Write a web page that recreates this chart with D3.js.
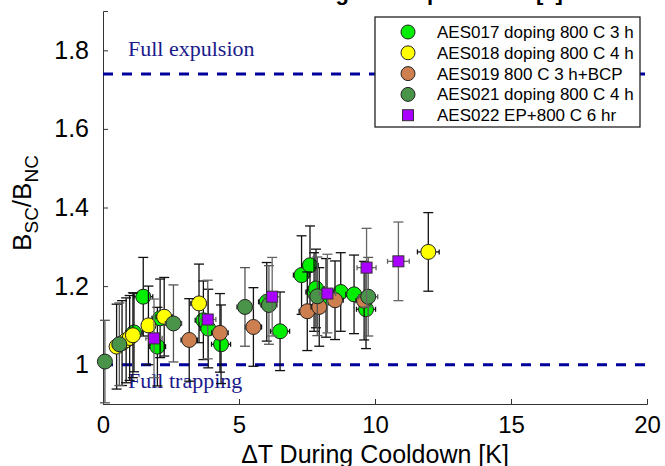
<!DOCTYPE html>
<html>
<head>
<meta charset="utf-8">
<script src="https://cdn.jsdelivr.net/npm/d3@7"></script>
<style>
  body { margin: 0; background: #fff; }
  svg { display: block; }
</style>
</head>
<body>
<div id="chart"></div>
<script>
// series names, marker colours, marker shapes (legend order = draw order)
var names = ["AES017 doping 800 C 3 h", "AES018 doping 800 C 4 h", "AES019 800 C 3 h+BCP",
             "AES021 doping 800 C 4 h", "AES022 EP+800 C 6 hr"];

// AES017 doping 800 C 3 h
var aes017X = [1.14, 1.48, 2.0, 2.1, 3.69, 3.87, 4.34, 6.02, 6.51, 7.3, 7.61, 7.76, 7.83, 8.2, 8.74, 9.23, 9.67];
var aes017Y = [1.082, 1.173, 1.046, 1.118, 1.113, 1.092, 1.052, 1.160, 1.085, 1.228, 1.253, 1.185, 1.194, 1.170, 1.185, 1.179, 1.141];
var aes017Ex = [0.3, 0.35, 0.3, 0.3, 0.3, 0.3, 0.35, 0.3, 0.35, 0.3, 0.3, 0.3, 0.3, 0.3, 0.3, 0.3, 0.35];
var aes017Ey = [0.1, 0.1, 0.1, 0.1, 0.1, 0.1, 0.1, 0.1, 0.1, 0.1, 0.1, 0.1, 0.1, 0.1, 0.1, 0.1, 0.1];

// AES018 doping 800 C 4 h
var aes018X = [0.5, 0.7, 0.85, 0.98, 1.1, 1.67, 2.25, 3.53, 11.96];
var aes018Y = [1.046, 1.055, 1.062, 1.068, 1.075, 1.100, 1.122, 1.156, 1.287];
var aes018Ex = [0.2, 0.2, 0.2, 0.2, 0.2, 0.25, 0.3, 0.3, 0.4];
var aes018Ey = [0.108, 0.108, 0.108, 0.108, 0.108, 0.1, 0.1, 0.1, 0.1];

// AES019 800 C 3 h+BCP
var aes019X = [3.17, 4.30, 5.53, 7.51, 7.95, 8.53, 9.6];
var aes019Y = [1.063, 1.081, 1.096, 1.136, 1.147, 1.164, 1.163];
var aes019Ex = [0.3, 0.3, 0.3, 0.3, 0.3, 0.3, 0.3];
var aes019Ey = [0.105, 0.1, 0.1, 0.1, 0.1, 0.1, 0.1];

// AES021 doping 800 C 4 h
var aes021X = [0.07, 0.6, 2.59, 5.22, 6.1, 7.88, 9.75];
var aes021Y = [1.008, 1.052, 1.105, 1.147, 1.152, 1.174, 1.173];
var aes021Ex = [0.15, 0.25, 0.3, 0.3, 0.3, 0.3, 0.35];
var aes021Ey = [0.105, 0.105, 0.098, 0.1, 0.1, 0.1, 0.1];

// AES022 EP+800 C 6 hr
var aes022X = [1.875, 3.85, 6.22, 8.25, 9.69, 10.86];
var aes022Y = [1.067, 1.115, 1.173, 1.181, 1.247, 1.263];
var aes022Ex = [0.3, 0.3, 0.3, 0.3, 0.35, 0.4];
var aes022Ey = [0.1, 0.1, 0.1, 0.1, 0.1, 0.1];

var xTicks = [0, 5, 10, 15, 20];
var yTicks = [1, 1.2, 1.4, 1.6, 1.8];
var refLines = [
    { value: 1.74, label: "Full expulsion" },
    { value: 1.0, label: "Full trapping" }
];

var config = {
    colors: ["#00ee00", "#ffff00", "#cd7f4f", "#4a944a", "#aa00ff"],
    barColors: ["#111", "#111", "#111", "#555", "#666"],
    shapes: ["circle", "circle", "circle", "circle", "square"],
    refColor: "#00009c",
    refText: "#1a1a8c",
    font: "'Liberation Sans', Arial, Helvetica, sans-serif",
    serif: "'Liberation Serif', 'Times New Roman', serif",
    width: 665,
    height: 466,
    margin: { left: 103, right: 18, top: 11, bottom: 62 }
};

var seriesData = [
    [aes017X, aes017Y, aes017Ex, aes017Ey],
    [aes018X, aes018Y, aes018Ex, aes018Ey],
    [aes019X, aes019Y, aes019Ex, aes019Ey],
    [aes021X, aes021Y, aes021Ex, aes021Ey],
    [aes022X, aes022Y, aes022Ex, aes022Ey]
].map(function (s, k) {
    return {
        name: names[k],
        color: config.colors[k],
        bar: config.barColors[k],
        shape: config.shapes[k],
        points: s[0].map(function (x, i) {
            return { x: x, y: s[1][i], ex: s[2][i], ey: s[3][i] };
        })
    };
});

var m = config.margin;
var svg = d3.select("#chart").append("svg")
    .attr("width", config.width)
    .attr("height", config.height);

var x = d3.scaleLinear().domain([0, 20]).range([m.left, config.width - m.right]);
var y = d3.scaleLinear().domain([0.9, 1.9]).range([config.height - m.bottom, m.top]);

// title, cut off at the top of the picture (only descenders show)
svg.append("text")
    .attr("x", 267).attr("y", 0)
    .attr("font-family", config.font)
    .attr("font-weight", "bold")
    .attr("font-size", 22)
    .text("Cooling rate dependence [a]");

// axes with inward ticks
var xAxis = svg.append("g")
    .attr("transform", "translate(0," + y.range()[0] + ")")
    .call(d3.axisBottom(x).tickValues(xTicks).tickSize(-5).tickPadding(12).tickFormat(d3.format("d")));
var yAxis = svg.append("g")
    .attr("transform", "translate(" + m.left + ",0)")
    .call(d3.axisLeft(y).tickValues(yTicks).tickSize(-5).tickPadding(14)
        .tickFormat(function (d) { return d === 1 ? "1" : d3.format(".1f")(d); }));

[xAxis, yAxis].forEach(function (a) {
    a.select(".domain").attr("stroke", "#333").attr("stroke-width", 1);
    a.selectAll(".tick line").attr("stroke", "#333");
    a.selectAll(".tick text")
        .attr("font-family", config.font)
        .attr("font-size", 25)
        .attr("fill", "#000");
});
xAxis.selectAll(".tick text").attr("font-size", 24).attr("dy", "0.71em");

// axis labels
svg.append("text")
    .attr("x", (x.range()[0] + x.range()[1]) / 2)
    .attr("y", 463)
    .attr("text-anchor", "middle")
    .attr("font-family", config.font)
    .attr("font-size", 25)
    .text("\u0394T During Cooldown [K]");

var yl = svg.append("text")
    .attr("transform", "translate(31,203) rotate(-90)")
    .attr("text-anchor", "middle")
    .attr("font-family", config.font)
    .attr("font-size", 26);
yl.append("tspan").text("B");
yl.append("tspan").attr("font-size", 19).attr("dy", 7).text("SC");
yl.append("tspan").attr("dy", -7).text("/B");
yl.append("tspan").attr("font-size", 19).attr("dy", 7).text("NC");

// reference lines
var refs = svg.selectAll(".ref").data(refLines).enter().append("g");
refs.append("line")
    .attr("x1", x(0)).attr("x2", x(20))
    .attr("y1", function (d) { return y(d.value); })
    .attr("y2", function (d) { return y(d.value); })
    .attr("stroke", config.refColor)
    .attr("stroke-width", 3)
    .attr("stroke-dasharray", "10,9");
refs.append("text")
    .attr("x", x(0) + 25)
    .attr("y", function (d, i) { return i === 0 ? y(d.value) - 18 : y(d.value) + 23; })
    .attr("font-family", config.serif)
    .attr("font-size", 22)
    .attr("fill", config.refText)
    .text(function (d) { return d.label; });

// error bars + markers, series by series
seriesData.forEach(function (s) {
    var g = svg.append("g");
    var pts = g.selectAll(".pt").data(s.points).enter().append("g");
    var cap = 5, xcap = 2.5;
    pts.append("line")
        .attr("x1", function (d) { return x(d.x); }).attr("x2", function (d) { return x(d.x); })
        .attr("y1", function (d) { return y(d.y - d.ey); }).attr("y2", function (d) { return y(d.y + d.ey); });
    pts.append("line")
        .attr("x1", function (d) { return x(d.x) - cap; }).attr("x2", function (d) { return x(d.x) + cap; })
        .attr("y1", function (d) { return y(d.y + d.ey); }).attr("y2", function (d) { return y(d.y + d.ey); });
    pts.append("line")
        .attr("x1", function (d) { return x(d.x) - cap; }).attr("x2", function (d) { return x(d.x) + cap; })
        .attr("y1", function (d) { return y(d.y - d.ey); }).attr("y2", function (d) { return y(d.y - d.ey); });
    pts.append("line")
        .attr("x1", function (d) { return x(d.x - d.ex); }).attr("x2", function (d) { return x(d.x + d.ex); })
        .attr("y1", function (d) { return y(d.y); }).attr("y2", function (d) { return y(d.y); });
    pts.append("line")
        .attr("x1", function (d) { return x(d.x - d.ex); }).attr("x2", function (d) { return x(d.x - d.ex); })
        .attr("y1", function (d) { return y(d.y) - xcap; }).attr("y2", function (d) { return y(d.y) + xcap; });
    pts.append("line")
        .attr("x1", function (d) { return x(d.x + d.ex); }).attr("x2", function (d) { return x(d.x + d.ex); })
        .attr("y1", function (d) { return y(d.y) - xcap; }).attr("y2", function (d) { return y(d.y) + xcap; });
    pts.selectAll("line").attr("stroke", s.bar).attr("stroke-width", 1.3);

    if (s.shape === "square") {
        pts.append("rect")
            .attr("x", function (d) { return x(d.x) - 5.5; })
            .attr("y", function (d) { return y(d.y) - 5.5; })
            .attr("width", 11).attr("height", 11)
            .attr("fill", s.color).attr("stroke", "#333").attr("stroke-width", 1);
    } else {
        pts.append("circle")
            .attr("cx", function (d) { return x(d.x); })
            .attr("cy", function (d) { return y(d.y); })
            .attr("r", 7.5)
            .attr("fill", s.color).attr("stroke", "#222").attr("stroke-width", 1);
    }
});

// legend
var lg = svg.append("g");
lg.append("rect")
    .attr("x", 375).attr("y", 17).attr("width", 265).attr("height", 110)
    .attr("fill", "#fff").attr("stroke", "#222").attr("stroke-width", 1.3);
var rows = lg.selectAll(".row").data(seriesData).enter().append("g")
    .attr("transform", function (d, i) { return "translate(408," + (32 + i * 20.8) + ")"; });
rows.each(function (d) {
    var r = d3.select(this);
    if (d.shape === "square") {
        r.append("rect").attr("x", -5.5).attr("y", -5.5).attr("width", 11).attr("height", 11)
            .attr("fill", d.color).attr("stroke", "#333");
    } else {
        r.append("circle").attr("r", 7).attr("fill", d.color).attr("stroke", "#222");
    }
});
rows.append("text")
    .attr("x", 29).attr("dy", "0.35em")
    .attr("font-family", config.font)
    .attr("font-size", 17)
    .text(function (d) { return d.name; });
</script>
</body>
</html>
